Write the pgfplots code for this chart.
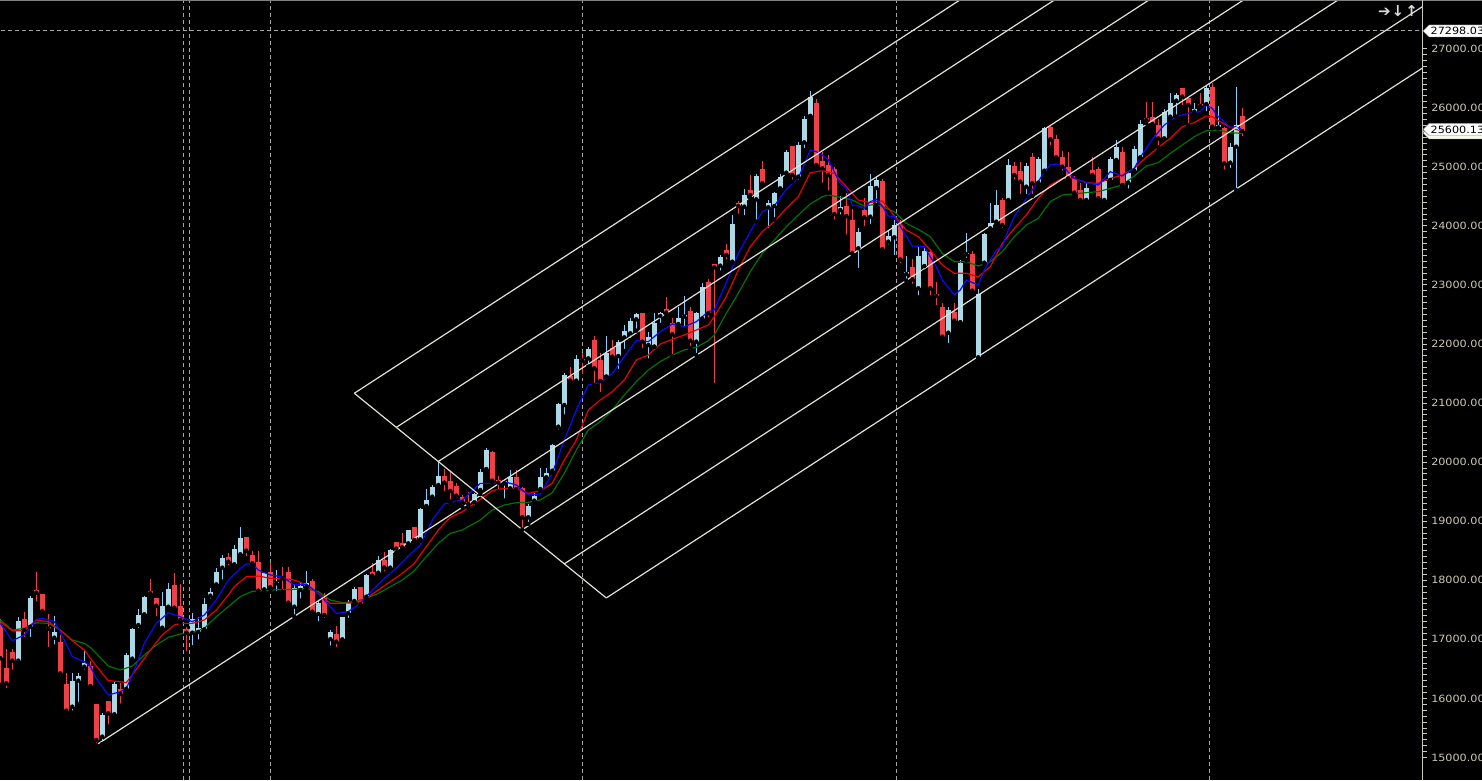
\documentclass[border=0pt]{standalone}
\usepackage{fontspec}
\setmainfont{DejaVu Sans}
\usepackage{pgfplots}
\usepackage{pgfplotstable}
\pgfplotsset{compat=1.18}
\newfontfamily\lbl[FakeStretch=1.12]{DejaVu Sans}

\definecolor{bullbody}{RGB}{173,216,230}
\definecolor{bullwick}{RGB}{135,206,250}
\definecolor{bear}{RGB}{238,64,70}
\definecolor{maBlue}{RGB}{10,10,255}
\definecolor{maRed}{RGB}{235,0,0}
\definecolor{maGreen}{RGB}{0,115,0}
\definecolor{fork}{RGB}{225,225,215}
\definecolor{gridgray}{RGB}{165,165,165}
\definecolor{axgray}{RGB}{200,200,190}
\definecolor{lblcol}{RGB}{205,200,180}

% candle index, open, high, low, close
\pgfplotstableread{
i o h l c
0 17240 17350 16230 16680
1 16509 16830 16142 16255
2 16785 16830 16453 16639
3 16639 17383 16577 17310
4 17338 17457 17005 17158
5 17214 17733 17005 17693
6 17829 18133 17603 17789
7 17767 17767 17440 17479
8 17208 17428 16836 17180
9 17028 17394 16876 17124
10 16955 17073 16351 16424
11 16244 16424 15748 15793
12 15860 16424 15759 16295
13 16301 16436 15906 16379
14 16537 16819 16453 16599
15 16548 16639 16176 16210
16 15906 15906 15212 15296
17 15353 15748 15230 15720
18 15956 15956 15522 15748
19 15731 16300 15691 16244
20 16154 16255 15877 16075
21 16165 16763 16142 16735
22 16673 17186 16650 17169
23 17242 17507 17158 17411
24 17423 17733 17372 17722
25 17817 18020 17710 17778
26 17693 17705 17355 17569
27 17197 17795 17169 17564
28 17552 17947 17524 17851
29 17919 18116 17496 17535
30 17564 17936 17282 17327
31 17174 17214 16763 17112
32 17112 17440 16864 17338
33 17124 17372 16960 17197
34 17169 17693 17129 17592
35 17739 17863 17654 17795
36 17930 18201 17908 18133
37 18213 18420 17976 18382
38 18399 18455 18219 18314
39 18269 18597 18258 18529
40 18439 18896 18399 18709
41 18726 18726 18371 18501
42 18427 18501 18230 18286
43 18303 18501 17779 17824
44 17846 18145 17790 18117
45 18145 18286 17846 17880
46 17948 18173 17779 17976
47 18060 18218 17807 18033
48 18145 18230 17553 17620
49 17553 17931 17384 17874
50 17835 17976 17654 17908
51 17891 18162 17874 17959
52 17987 18021 17440 17468
53 17429 17666 17271 17620
54 17705 17778 17327 17412
55 17005 17158 16859 17130
56 17090 17226 16836 16960
57 17000 17372 16932 17372
58 17440 17666 17327 17609
59 17649 17880 17609 17846
60 17880 17880 17581 17598
61 17722 18106 17694 18089
62 18145 18286 18049 18077
63 18128 18410 18100 18343
64 18343 18472 18117 18218
65 18213 18529 18185 18512
66 18647 18647 18467 18535
67 18625 18794 18540 18557
68 18625 18850 18568 18850
69 18896 18896 18653 18681
70 18692 19217 18670 19206
71 19257 19539 19245 19358
72 19415 19612 19387 19573
73 19612 20010 19573 19765
74 19765 19877 19471 19652
75 19680 19838 19330 19511
76 19595 19640 19387 19432
77 19415 19443 19245 19320
78 19330 19499 19234 19290
79 19319 19482 19234 19460
80 19527 19877 19460 19826
81 19883 20233 19866 20204
82 20165 20187 19657 19685
83 19697 19770 19499 19651
84 19640 19685 19347 19680
85 19555 19866 19527 19753
86 19742 19866 19499 19544
87 19555 19584 18855 19065
88 19065 19290 18952 19256
89 19347 19471 19330 19426
90 19544 19905 19516 19742
91 19742 19894 19713 19809
92 19854 20306 19820 20289
93 20599 21005 20515 20983
94 20966 21502 20769 21474
95 21457 21604 21305 21378
96 21378 21812 21322 21745
97 21739 21852 21457 21716
98 21756 21953 21615 21914
99 22066 22134 21305 21587
100 21728 21840 21152 21372
101 21446 22134 21446 21852
102 21925 22066 21773 21784
103 21795 22066 21542 22038
104 22111 22320 21880 22224
105 22179 22433 22066 22393
106 22416 22529 22224 22506
107 22518 22529 21897 22038
108 21981 22207 21716 22111
109 21953 22518 21953 22348
110 22472 22546 22320 22518
111 22585 22800 22500 22529
112 22360 22444 21784 22162
113 22337 22630 22292 22433
114 22461 22811 22247 22495
115 22563 22630 21925 22055
116 22038 22546 21812 22518
117 22430 23037 22416 22958
118 23050 23100 22416 22520
119 23353 23353 21305 23296
120 23324 23505 23206 23465
121 23590 23686 23392 23505
122 23392 24182 23375 24030
123 24379 24425 24165 24334
124 24323 24616 24142 24521
125 24605 24859 24464 24521
126 24447 24876 24069 24842
127 24961 25096 24673 24718
128 24312 24436 23928 24379
129 24334 24577 24109 24549
130 24633 24876 24605 24820
131 24898 25282 24876 25254
132 25350 25350 24746 24859
133 24831 25423 24746 25361
134 25412 25858 25282 25801
135 25858 26281 25858 26174
136 26072 26140 24972 25028
137 25096 25254 24690 24972
138 25028 25198 24560 24859
139 24955 24989 24069 24199
140 24267 24504 24154 24323
141 24334 24549 23815 24165
142 24097 24278 23522 23533
143 23618 23956 23251 23900
144 24267 24464 23956 24142
145 24154 24876 23996 24673
146 24639 24842 24351 24774
147 24757 24797 23545 23601
148 23731 23928 23646 23826
149 23804 24097 23466 24013
150 24013 24097 23335 23431
151 23183 23488 23070 23223
152 23307 23431 22980 23093
153 22941 23646 22788 23488
154 23318 23646 23223 23572
155 23561 23601 22788 22941
156 22839 23053 22619 22811
157 22630 22687 22094 22122
158 22190 22619 21981 22574
159 22546 22698 22331 22393
160 22365 23420 22365 23375
161 23516 23883 23420 23544
162 23522 23578 22867 22901
163 21773 22924 21756 22845
164 23375 23883 23364 23860
165 23956 24379 23939 24041
166 24069 24605 24052 24351
167 24436 24464 23928 24013
168 24436 25124 24425 25028
169 25011 25085 24746 24859
170 24932 25085 24503 24746
171 24661 25056 24503 25011
172 25169 25237 24503 24718
173 24729 25169 24707 25130
174 24932 25677 24915 25649
175 25666 25688 25327 25463
176 25468 25536 25124 25158
177 25160 25271 24898 25000
178 24998 25254 24774 24802
179 24785 24842 24537 24560
180 24605 24729 24380 24436
181 24436 24729 24380 24633
182 24943 25158 24802 24859
183 24955 24999 24436 24464
184 24436 24774 24400 24757
185 24774 25158 24746 25124
186 25113 25451 25101 25327
187 25254 25327 24673 24690
188 24729 24915 24594 24898
189 24932 25350 24915 25299
190 25158 25790 25141 25722
191 25829 26100 25733 25790
192 25846 26100 25688 25722
193 25705 25801 25327 25479
194 25479 25970 25463 25920
195 25846 26252 25778 26072
196 26117 26252 25846 26213
197 26326 26326 26004 26185
198 26156 26156 25705 26044
199 25931 26072 25903 25970
200 26060 26241 26004 26027
201 26060 26382 25903 26326
202 26343 26410 25649 25677
203 25666 26027 25649 25705
204 25649 25666 24915 25056
205 25068 25406 24943 25327
206 25338 26354 24600 25705
207 25850 26000 25480 25600
}\ohlc

\begin{document}
\begin{tikzpicture}
\useasboundingbox (0,0) rectangle (1482pt,780pt);
\fill[black] (0,0) rectangle (1482pt,780pt);
\begin{axis}[
    at={(0pt,0pt)}, anchor=south west,
    scale only axis,
    width=1422.7pt, height=780pt,
    xmin=-0.05, xmax=237.07,
    ymin=14619, ymax=27821,
    axis line style={draw=none},
    xtick=\empty,
    ytick={15000,16000,...,27000},
    scaled y ticks=false,
    minor y tick num=9,
    ytick pos=right, yticklabel pos=right,
    tick align=outside,
    major tick length=4pt, minor tick length=4pt,
    tick style={axgray, line width=0.8pt},
    /pgf/number format/assume math mode=true,
    yticklabel={\pgfmathprintnumber[fixed,fixed zerofill,precision=2,1000 sep={}]{\tick}},
    yticklabel style={font=\lbl\fontsize{10}{12}\selectfont, text=lblcol, anchor=west, xshift=1pt},
    ]
    % period separators and price line
    \addplot[gridgray, line width=0.9pt, dash pattern=on 4pt off 3pt] coordinates {(30.5,14619) (30.5,27821)};
    \addplot[gridgray, line width=0.9pt, dash pattern=on 4pt off 3pt] coordinates {(31.5,14619) (31.5,27821)};
    \addplot[gridgray, line width=0.9pt, dash pattern=on 4pt off 3pt] coordinates {(45.07,14619) (45.07,27821)};
    \addplot[gridgray, line width=0.9pt, dash pattern=on 4pt off 3pt] coordinates {(97,14619) (97,27821)};
    \addplot[gridgray, line width=0.9pt, dash pattern=on 4pt off 3pt] coordinates {(149.35,14619) (149.35,27821)};
    \addplot[gridgray, line width=0.9pt, dash pattern=on 4pt off 3pt] coordinates {(201.5,14619) (201.5,27821)};
    \addplot[gridgray, line width=0.9pt, dash pattern=on 4pt off 3pt] coordinates {(-1,27298) (240,27298)};

    % wicks: from low, up by high-low
    \addplot[only marks, mark=none, error bars/.cd, y dir=plus, y explicit, error mark=none,
        error bar style={line width=1pt, draw=bullwick}]
        table[x=i, y expr={\thisrow{c}>=\thisrow{o} ? \thisrow{l} : nan},
              y error plus expr={\thisrow{h}-\thisrow{l}}] {\ohlc};
    \addplot[only marks, mark=none, error bars/.cd, y dir=plus, y explicit, error mark=none,
        error bar style={line width=1pt, draw=bear}]
        table[x=i, y expr={\thisrow{c}<\thisrow{o} ? \thisrow{l} : nan},
              y error plus expr={\thisrow{h}-\thisrow{l}}] {\ohlc};
    % bodies: from min(open,close), up by |close-open|
    \addplot[only marks, mark=none, error bars/.cd, y dir=plus, y explicit, error mark=none,
        error bar style={line width=4.8pt, draw=bullbody}]
        table[x=i, y expr={\thisrow{c}>=\thisrow{o} ? \thisrow{o} : nan},
              y error plus expr={max(\thisrow{c}-\thisrow{o},18)}] {\ohlc};
    \addplot[only marks, mark=none, error bars/.cd, y dir=plus, y explicit, error mark=none,
        error bar style={line width=4.8pt, draw=bear}]
        table[x=i, y expr={\thisrow{c}<\thisrow{o} ? \thisrow{c} : nan},
              y error plus expr={max(\thisrow{o}-\thisrow{c},18)}] {\ohlc};

    % moving averages
    \addplot[maGreen, line width=1.2pt] coordinates {
        (0,17327)(2,17157)(4,17186)(6,17281)(8,17270)(10,17157)(12,16988)(14,16932)(15,16864)(16,16762)(18,16548)(20,16480)(22,16548)(24,16734)(26,16903)(28,17033)(30,17090)(32,17112)(34,17186)(36,17383)(38,17552)(40,17722)(42,17812)(45,17835)(49,17846)(51,17863)(53,17807)(55,17666)(57,17620)(59,17637)(61,17694)(63,17778)(65,17891)(67,18004)(69,18162)(71,18399)(73,18625)(75,18794)(77,18850)(80,19020)(82,19189)(84,19273)(86,19313)(88,19319)(90,19358)(92,19482)(94,19809)(96,20204)(98,20543)(100,20684)(102,20881)(104,21135)(106,21361)(108,21558)(110,21700)(112,21812)(114,21897)(116,21942)(118,22055)(119,22151)(121,22518)(123,22856)(125,23223)(127,23533)(129,23759)(131,23984)(133,24182)(135,24368)(137,24492)(138,24521)(140,24481)(142,24436)(144,24334)(146,24365)(149,24238)(151,24041)(153,23939)(155,23815)(157,23533)(159,23392)(161,23392)(163,23318)(165,23392)(167,23561)(169,23815)(171,24013)(173,24126)(175,24408)(177,24520)(179,24540)(181,24560)(183,24577)(185,24633)(187,24690)(189,24842)(191,25011)(193,25068)(195,25225)(197,25367)(199,25508)(201,25609)(203,25620)(205,25575)(207,25564)};
    \addplot[maRed, line width=1.2pt] coordinates {
        (0,17298)(2,17146)(4,17146)(6,17327)(8,17298)(10,17157)(12,16977)(14,16819)(16,16548)(18,16300)(20,16283)(21,16266)(23,16537)(25,16819)(27,17073)(29,17242)(30,17270)(32,17270)(34,17327)(36,17496)(38,17750)(39,17891)(41,18060)(43,18071)(45,18032)(47,18032)(49,18004)(51,17920)(53,17778)(55,17609)(57,17609)(59,17620)(61,17694)(63,17835)(65,17976)(67,18117)(69,18286)(71,18568)(73,18850)(75,19065)(77,19160)(80,19369)(82,19516)(84,19555)(86,19555)(88,19471)(90,19516)(92,19640)(94,20035)(96,20374)(98,20881)(100,21051)(102,21192)(104,21389)(106,21728)(108,21812)(110,21998)(112,22077)(114,22151)(116,22235)(118,22320)(119,22461)(121,22800)(123,23251)(125,23646)(127,23900)(129,24069)(131,24295)(133,24492)(135,24898)(137,24932)(139,24887)(141,24661)(143,24436)(145,24391)(147,24420)(149,24170)(151,23928)(153,23815)(155,23589)(157,23335)(159,23195)(161,23195)(163,23138)(165,23307)(167,23702)(169,23956)(171,24182)(173,24464)(175,24690)(177,24802)(179,24802)(181,24729)(183,24718)(185,24802)(187,24859)(189,24972)(191,25158)(193,25327)(195,25479)(197,25677)(199,25745)(201,25858)(202,25846)(203,25778)(205,25666)(207,25592)};
    \addplot[maBlue, line width=1.2pt] coordinates {
        (0,17270)(2,16977)(4,17073)(6,17338)(7,17355)(9,17298)(10,17129)(12,16706)(14,16621)(15,16548)(16,16339)(18,16057)(20,16113)(21,16170)(22,16395)(23,16650)(24,16932)(26,17270)(28,17450)(30,17383)(32,17298)(34,17411)(36,17665)(38,18003)(40,18201)(41,18275)(42,18275)(43,18173)(45,18089)(47,18060)(49,17920)(51,17936)(53,17778)(55,17553)(56,17440)(58,17468)(60,17609)(62,17835)(64,18032)(66,18202)(68,18410)(70,18597)(72,19020)(74,19290)(76,19341)(77,19358)(80,19640)(82,19640)(84,19668)(86,19612)(88,19443)(90,19460)(92,19809)(94,20374)(96,20881)(98,21305)(100,21344)(102,21502)(104,21784)(106,22055)(108,22038)(110,22207)(112,22337)(114,22292)(116,22376)(118,22546)(119,22574)(121,23037)(123,23533)(125,23900)(127,24238)(129,24334)(131,24616)(133,24803)(135,25282)(136,25254)(137,25198)(138,25113)(139,24915)(140,24718)(141,24633)(142,24351)(143,24334)(144,24295)(145,24408)(146,24447)(147,24334)(148,24165)(149,24154)(151,23826)(152,23657)(154,23646)(156,23307)(157,23082)(159,22828)(160,22913)(161,23082)(163,22997)(164,23251)(166,23589)(167,23646)(168,23928)(169,24154)(171,24464)(173,24746)(174,24915)(175,25028)(176,25045)(177,25011)(179,24802)(181,24729)(183,24690)(185,24915)(187,24842)(189,24972)(190,25158)(192,25463)(194,25705)(196,25846)(198,25903)(200,25931)(201,26044)(202,25987)(203,25846)(204,25761)(205,25666)(206,25677)(207,25620)};

    % Andrews' pitchfork with extra levels
    \addplot[fork, line width=1.2pt] coordinates {(59,21165) (101,17700)};
    \addplot[fork, line width=1.2pt] coordinates {(59,21165) (240,33101)};
    \addplot[fork, line width=1.2pt] coordinates {(66,20587.5) (240,32062)};
    \addplot[fork, line width=1.2pt] coordinates {(73,20010) (240,31023)};
    \addplot[fork, line width=1.2pt] coordinates {(16,15212) (240,29984)};
    \addplot[fork, line width=1.2pt] coordinates {(87,18855) (240,28945)};
    \addplot[fork, line width=1.2pt] coordinates {(94,18277.5) (240,27905)};
    \addplot[fork, line width=1.2pt] coordinates {(101,17700) (240,26866)};
\end{axis}
% window frame and price scale decorations
\draw[gray, line width=1.5pt] (0,779.5pt) -- (1482pt,779.5pt);
\draw[axgray, line width=1pt] (1422.7pt,0) -- (1422.7pt,780pt);
\node[text=white!85!black, font=\fontsize{15}{15}\selectfont\bfseries, inner sep=0pt]
    at (1398pt,769pt) {➔\kern1pt↓\kern1pt↑};
% current price tags
\filldraw[fill={rgb,255:red,250;green,250;blue,235}, draw=gray] (1423pt,647pt) -- (1429pt,653pt) -- (1490pt,653pt) -- (1490pt,641pt) -- (1429pt,641pt) -- cycle;
\filldraw[fill=white, draw=gray] (1423pt,650.5pt) -- (1429pt,656.5pt) -- (1490pt,656.5pt) -- (1490pt,644.5pt) -- (1429pt,644.5pt) -- cycle;
\node[anchor=west, inner sep=0pt, font=\lbl\fontsize{10}{12}\selectfont, text=black] at (1430.5pt,650.5pt) {25600.13};
\filldraw[fill=white, draw=gray] (1423pt,749pt) -- (1429pt,755pt) -- (1490pt,755pt) -- (1490pt,743pt) -- (1429pt,743pt) -- cycle;
\node[anchor=west, inner sep=0pt, font=\lbl\fontsize{10}{12}\selectfont, text=black] at (1430.5pt,749pt) {27298.03};
\end{tikzpicture}
\end{document}
